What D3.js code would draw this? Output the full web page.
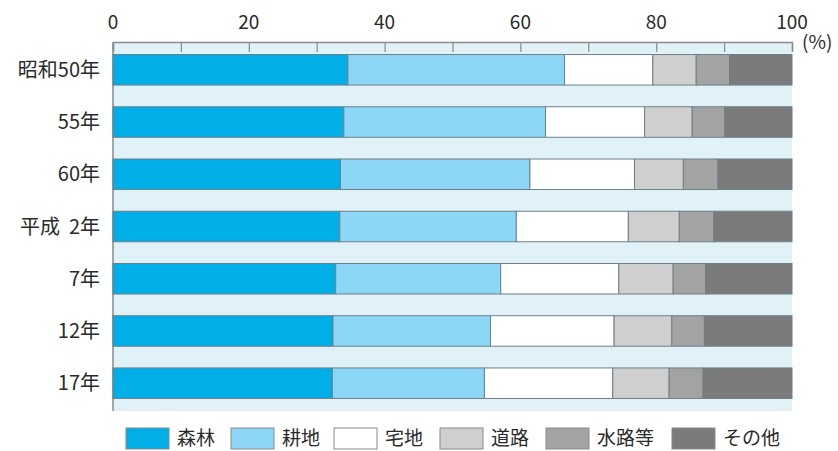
<!DOCTYPE html>
<html>
<head>
<meta charset="utf-8">
<script src="https://cdn.jsdelivr.net/npm/d3@7"></script>
<style>
  body { margin: 0; background: #fff; }
  text { font-family: "Noto Sans CJK JP", "Noto Sans", sans-serif; fill: #2a2a2a; }
</style>
</head>
<body>
<div id="my_dataviz"></div>
<script>
// data (%)
var years = ["昭和50年", "55年", "60年", "平成  2年", "7年", "12年", "17年"];
var landUse = ["森林", "耕地", "宅地", "道路", "水路等", "その他"];
var forest  = [34.6, 34.0, 33.5, 33.4, 32.8, 32.4, 32.3];
var farm    = [31.9, 29.7, 27.9, 26.0, 24.3, 23.2, 22.4];
var housing = [13.0, 14.6, 15.4, 16.5, 17.4, 18.2, 18.9];
var road    = [6.4, 7.0, 7.2, 7.5, 8.0, 8.5, 8.3];
var water   = [4.9, 4.8, 5.1, 5.1, 4.8, 4.8, 5.0];
var other   = [9.2, 9.9, 10.9, 11.5, 12.7, 12.9, 13.1];
var xTicks  = [0, 20, 40, 60, 80, 100];

var colors = ["#00aee8", "#8dd7f6", "#ffffff", "#cfcfcf", "#a3a3a3", "#7b7b7b"];

var totalW = 838, totalH = 451;
var margin = {top: 42, right: 46, bottom: 40, left: 113},
    width = totalW - margin.left - margin.right,
    height = totalH - margin.top - margin.bottom;

var svg = d3.select("#my_dataviz")
  .append("svg")
    .attr("width", totalW)
    .attr("height", totalH)
  .append("g")
    .attr("transform", "translate(" + margin.left + "," + margin.top + ")");

// build rows for the stack
var series = [forest, farm, housing, road, water, other];
var rows = years.map(function(y, i) {
  var r = {year: y};
  landUse.forEach(function(k, j) { r[k] = series[j][i]; });
  return r;
});
var stacked = d3.stack().keys(landUse)(rows);

var x = d3.scaleLinear().domain([0, 100]).range([0, width]);
var y = d3.scaleBand().domain(years).range([0, height])
  .paddingInner(0.416).paddingOuter(0.24);

// plot background
svg.append("rect")
  .attr("x", 0).attr("y", 0)
  .attr("width", width).attr("height", height)
  .attr("fill", "#e0f1f7");

// top axis
var xAxis = svg.append("g")
  .call(d3.axisTop(x).tickValues(d3.range(0, 101, 10)).tickSize(-10).tickFormat(""));
xAxis.select(".domain").attr("stroke", "#8a8a8a").attr("stroke-width", 1.5);
xAxis.selectAll(".tick line").attr("stroke", "#8a8a8a").attr("stroke-width", 1.2);

svg.selectAll("xlabel")
  .data(xTicks)
  .enter()
  .append("text")
    .attr("x", function(d) { return x(d); })
    .attr("y", -13)
    .attr("text-anchor", "middle")
    .style("font-size", "19px")
    .text(function(d) { return d; });

svg.append("text")
  .attr("x", width + 10)
  .attr("y", 7)
  .style("font-size", "19px")
  .text("(%)");

// left axis line
svg.append("line")
  .attr("x1", 0).attr("x2", 0)
  .attr("y1", 0).attr("y2", height)
  .attr("stroke", "#8a8a8a")
  .attr("stroke-width", 1.5);

// bars
svg.selectAll("g.layer")
  .data(stacked)
  .enter()
  .append("g")
    .attr("class", "layer")
    .attr("fill", function(d, i) { return colors[i]; })
  .selectAll("rect")
  .data(function(d) { return d; })
  .enter()
  .append("rect")
    .attr("x", function(d) { return x(d[0]); })
    .attr("y", function(d) { return y(d.data.year); })
    .attr("width", function(d) { return x(d[1]) - x(d[0]); })
    .attr("height", y.bandwidth())
    .attr("stroke", "#6f7f88")
    .attr("stroke-width", 1);

// category labels
svg.selectAll("ylabel")
  .data(years)
  .enter()
  .append("text")
    .attr("x", -13)
    .attr("y", function(d) { return y(d) + y.bandwidth() / 2; })
    .attr("dy", "0.36em")
    .attr("text-anchor", "end")
    .style("font-size", "20px")
    .style("white-space", "pre")
    .text(function(d) { return d; });

// legend
var legendX = [126, 231, 334, 440, 546, 672];
var legend = svg.selectAll("legend")
  .data(landUse)
  .enter()
  .append("g")
    .attr("transform", function(d, i) {
      return "translate(" + (legendX[i] - margin.left) + "," + (428 - margin.top) + ")";
    });
legend.append("rect")
  .attr("width", 43).attr("height", 21)
  .attr("fill", function(d, i) { return colors[i]; })
  .attr("stroke", "#8a8a8a");
legend.append("text")
  .attr("x", 51)
  .attr("y", 10)
  .attr("dy", "0.36em")
  .style("font-size", "19px")
  .text(function(d) { return d; });
</script>
</body>
</html>
